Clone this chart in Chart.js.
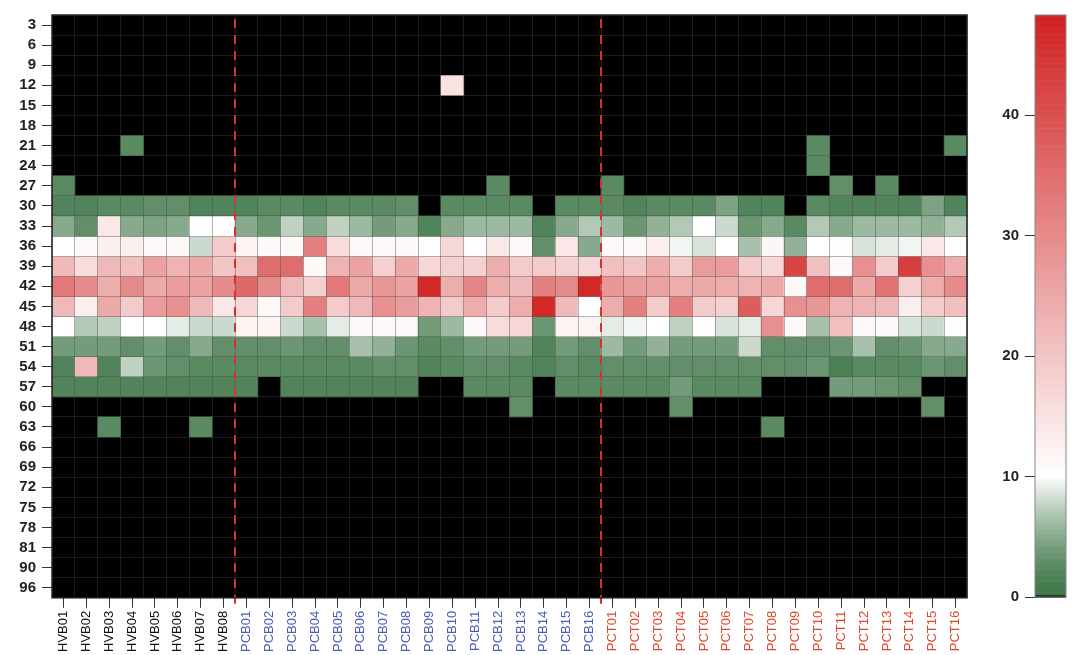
<!DOCTYPE html>
<html lang="en">
<head>
<meta charset="UTF-8">
<title>Heatmap</title>
<script src="https://cdn.jsdelivr.net/npm/chart.js"></script>
<style>
  body { margin: 0; background: #fff; }
  #wrap { position: relative; width: 1077px; height: 655px; }
  #heat { position: absolute; left: 0; top: 0; }
  #bar { position: absolute; left: 975px; top: 0; }
</style>
</head>
<body>
<div id="wrap">
  <canvas id="heat" width="1077" height="655"></canvas>
  <canvas id="bar" width="102" height="655"></canvas>
</div>
<script>
// row labels (top to bottom)
const depths = ['3','6','9','12','15','18','21','24','27','30','33','36','39','42','45','48','51','54','57','60','63','66','69','72','75','78','81','90','96'];

const hvbLabels = ['HVB01','HVB02','HVB03','HVB04','HVB05','HVB06','HVB07','HVB08'];
const pcbLabels = ['PCB01','PCB02','PCB03','PCB04','PCB05','PCB06','PCB07','PCB08','PCB09','PCB10','PCB11','PCB12','PCB13','PCB14','PCB15','PCB16'];
const pctLabels = ['PCT01','PCT02','PCT03','PCT04','PCT05','PCT06','PCT07','PCT08','PCT09','PCT10','PCT11','PCT12','PCT13','PCT14','PCT15','PCT16'];

// one array per sample, values for rows 3 .. 96
const hvbValues = [
  [0,0,0,0,0,0, 0,0,2.5, 2,5,10,22,33,22,10,4,2,2, 0,0, 0,0,0,0,0,0,0,0],
  [0,0,0,0,0,0, 0,0,0, 2,3,11,16,30,13,7,4,22,2, 0,0, 0,0,0,0,0,0,0,0],
  [0,0,0,0,0,0, 0,0,0, 2.5,14,13,22,24,25,7.5,4,2,2, 0,2.5, 0,0,0,0,0,0,0,0],
  [0,0,0,0,0,0, 2.5,0,0, 2.5,5,13,21,30,19,10,3,7.5,2, 0,0, 0,0,0,0,0,0,0,0],
  [0,0,0,0,0,0, 0,0,0, 3,4.5,11,26,25,27,10,4,3.5,2, 0,0, 0,0,0,0,0,0,0,0],
  [0,0,0,0,0,0, 0,0,0, 3,5,11,23,27,29,9,3,3,2, 0,0, 0,0,0,0,0,0,0,0],
  [0,0,0,0,0,0, 0,0,0, 2,10,8,25,26,22,8,5,2.5,2, 0,2.5, 0,0,0,0,0,0,0,0],
  [0,0,0,0,0,0, 0,0,0, 2,10,19,20,30,14,8,3,2.5,2, 0,0, 0,0,0,0,0,0,0,0]
];
const pcbValues = [
  [0,0,0,0,0,0, 0,0,0, 2,5,12,21,36,17,12,3,2.5,2, 0,0, 0,0,0,0,0,0,0,0],
  [0,0,0,0,0,0, 0,0,0, 2.5,3.5,11,35,30,11,12,3,2.5,0, 0,0, 0,0,0,0,0,0,0,0],
  [0,0,0,0,0,0, 0,0,0, 2.5,7.5,11,35,22,19,8,3.5,2.5,2, 0,0, 0,0,0,0,0,0,0,0],
  [0,0,0,0,0,0, 0,0,0, 2,5,32,11,18,32,6.5,3,2.5,2, 0,0, 0,0,0,0,0,0,0,0],
  [0,0,0,0,0,0, 0,0,0, 2.5,7.5,16,23,33,19,9,3,2.5,2, 0,0, 0,0,0,0,0,0,0,0],
  [0,0,0,0,0,0, 0,0,0, 2.5,6,11,26,25,22,11,6.5,2.5,2, 0,0, 0,0,0,0,0,0,0,0],
  [0,0,0,0,0,0, 0,0,0, 2.5,4,11,18,28,29,11,5.5,3,2, 0,0, 0,0,0,0,0,0,0,0],
  [0,0,0,0,0,0, 0,0,0, 3,5,11,25,26,27,11,3.5,3,2, 0,0, 0,0,0,0,0,0,0,0],
  [0,0,0,0,0,0, 0,0,0, 0,2,10.5,17,47,23,4,2.5,2,0, 0,0, 0,0,0,0,0,0,0,0],
  [0,0,0,15,0,0, 0,0,0, 2.5,5,17,18,24,19,6,3,2.5,0, 0,0, 0,0,0,0,0,0,0,0],
  [0,0,0,0,0,0, 0,0,0, 2.5,6,10.5,18,31,24,11,4,3,2.5, 0,0, 0,0,0,0,0,0,0,0],
  [0,0,0,0,0,0, 0,0,2.5, 2.5,6,14,24,24,19,16,4,3,2.5, 0,0, 0,0,0,0,0,0,0,0],
  [0,0,0,0,0,0, 0,0,0, 2.5,6,11,19,22,24,17,4,2.5,2.5, 3,0, 0,0,0,0,0,0,0,0],
  [0,0,0,0,0,0, 0,0,0, 0,2,3,19,32,47,3.5,2,2,0, 0,0, 0,0,0,0,0,0,0,0],
  [0,0,0,0,0,0, 0,0,0, 2.5,5,14,18,30,22,12,4,3,2.5, 0,0, 0,0,0,0,0,0,0,0],
  [0,0,0,0,0,0, 0,0,0, 2.5,7,5,17,47,10,12,3,2.5,2.5, 0,0, 0,0,0,0,0,0,0,0]
];
const pctValues = [
  [0,0,0,0,0,0, 0,0,2.5, 2.5,6,11,21,28,24,9,6,3,2.5, 0,0, 0,0,0,0,0,0,0,0],
  [0,0,0,0,0,0, 0,0,0, 2,3.5,11,20,27,32,9.5,4,3,2.5, 0,0, 0,0,0,0,0,0,0,0],
  [0,0,0,0,0,0, 0,0,0, 2.5,5.5,13,24,26,19,10,5.5,3,2.5, 0,0, 0,0,0,0,0,0,0,0],
  [0,0,0,0,0,0, 0,0,0, 2.5,7,9.5,19,24,32,7.5,4,3,4, 3,0, 0,0,0,0,0,0,0,0],
  [0,0,0,0,0,0, 0,0,0, 2.5,10,8.5,27,25,19,10.5,4,3,2.5, 0,0, 0,0,0,0,0,0,0,0],
  [0,0,0,0,0,0, 0,0,0, 4.5,8,10,27,24,18,8.5,4,3,2.5, 0,0, 0,0,0,0,0,0,0,0],
  [0,0,0,0,0,0, 0,0,0, 2,3.5,6.5,19,23,38,9,8,3,2.5, 0,0, 0,0,0,0,0,0,0,0],
  [0,0,0,0,0,0, 0,0,0, 2,5,11.5,17,25,17,29,3,3,0, 0,2.5, 0,0,0,0,0,0,0,0],
  [0,0,0,0,0,0, 0,0,0, 0,2.5,5.5,42,11,29,11,3,3,0, 0,0, 0,0,0,0,0,0,0,0],
  [0,0,0,0,0,0, 2.5,2.5,0, 2.5,7,10,21,35,28,6.5,3,3.5,0, 0,0, 0,0,0,0,0,0,0,0],
  [0,0,0,0,0,0, 0,0,3, 2,5,10.5,11,35,23,21,3.5,1.5,4, 0,0, 0,0,0,0,0,0,0,0],
  [0,0,0,0,0,0, 0,0,0, 2,6,8.5,29,25,23,11,6.5,2.5,4, 0,0, 0,0,0,0,0,0,0,0],
  [0,0,0,0,0,0, 0,0,2.5, 2,6,9,19,34,22,11,3,2.5,3.5, 0,0, 0,0,0,0,0,0,0,0],
  [0,0,0,0,0,0, 0,0,0, 2,6,9.5,43,18,13,8.5,3.5,2.5,3, 0,0, 0,0,0,0,0,0,0,0],
  [0,0,0,0,0,0, 0,0,0, 4.5,5.5,14,29,24,19,8,5,3.5,0, 3,0, 0,0,0,0,0,0,0,0],
  [0,0,0,0,0,0, 2.5,0,0, 2,7,10.5,24,30,21,10.5,5,3,0, 0,0, 0,0,0,0,0,0,0,0]
];

const colorTicks = [0, 10, 20, 30, 40];
const colorMax = 48.3;

const samples = hvbLabels.concat(pcbLabels, pctLabels);
const columns = hvbValues.concat(pcbValues, pctValues);
const FONT = "'Liberation Sans', Arial, sans-serif";

function mix(a, b, t) {
  return a.map((v, k) => Math.round(v + (b[k] - v) * t));
}
function heatColor(v) {
  if (v <= 0) return 'rgba(0,0,0,0)';
  let c;
  if (v < 10) c = mix([62, 118, 72], [255, 255, 255], Math.pow(v / 10, 1.4));
  else c = mix([255, 255, 255], [208, 32, 32], Math.min((v - 10) / (colorMax - 10), 1));
  return 'rgb(' + c.join(',') + ')';
}

const datasets = depths.map((d, j) => ({
  label: d,
  data: samples.map(() => [j, j + 1]),
  backgroundColor: columns.map(col => heatColor(col[j])),
  borderWidth: 0,
  grouped: false,
  barPercentage: 1,
  categoryPercentage: 1,
  xAxisID: 'x',
  yAxisID: 'y'
}));

const heatBg = {
  id: 'heatBg',
  beforeDatasetsDraw(chart) {
    const a = chart.chartArea, ctx = chart.ctx;
    ctx.save();
    ctx.fillStyle = '#000';
    ctx.fillRect(a.left, a.top, a.right - a.left, a.bottom - a.top);
    ctx.restore();
  },
  afterDraw(chart) {
    const a = chart.chartArea, ctx = chart.ctx, xs = chart.scales.x;
    ctx.save();
    ctx.strokeStyle = '#d9302a';
    ctx.lineWidth = 2;
    ctx.setLineDash([9, 7]);
    [7, 23].forEach(i => {
      const x = (xs.getPixelForTick(i) + xs.getPixelForTick(i + 1)) / 2;
      ctx.beginPath();
      ctx.moveTo(x, a.top + 4);
      ctx.lineTo(x, a.bottom + 6);
      ctx.stroke();
    });
    ctx.setLineDash([]);
    ctx.strokeStyle = '#222';
    ctx.lineWidth = 1.5;
    ctx.strokeRect(a.left, a.top, a.right - a.left, a.bottom - a.top);
    ctx.restore();
  }
};

new Chart(document.getElementById('heat'), {
  type: 'bar',
  data: { labels: samples, datasets: datasets },
  options: {
    responsive: false,
    animation: false,
    layout: { padding: { top: 14, right: 110, left: 0, bottom: 0 } },
    plugins: { legend: { display: false }, tooltip: { enabled: false } },
    scales: {
      x: {
        type: 'category',
        position: 'bottom',
        offset: true,
        grid: { offset: false, drawOnChartArea: false, drawTicks: true, tickLength: 10, color: '#333' },
        border: { display: false },
        ticks: {
          autoSkip: false, minRotation: 90, maxRotation: 90, padding: 3,
          font: { family: FONT, size: 13 },
          color: ctx => ctx.index < 8 ? '#111' : (ctx.index < 24 ? '#4a5cb4' : '#e2452c')
        }
      },
      xg: {
        type: 'category',
        position: 'top',
        offset: true,
        grid: { offset: true, drawOnChartArea: true, drawTicks: false, color: 'rgba(70,70,70,0.4)', z: 1 },
        border: { display: false },
        ticks: { display: false },
        afterFit: s => { s.height = 0; }
      },
      y: {
        type: 'linear',
        position: 'left',
        min: 0, max: depths.length,
        reverse: true,
        afterBuildTicks: s => { s.ticks = depths.map((d, j) => ({ value: j + 0.5 })); },
        afterFit: s => { s.width = 52; },
        grid: { drawOnChartArea: false, drawTicks: true, tickLength: 10, color: '#333' },
        border: { display: false },
        ticks: {
          autoSkip: false,
          padding: 6,
          font: { family: FONT, size: 15, weight: 'bold' },
          color: '#222',
          callback: v => depths[Math.floor(v)]
        }
      },
      yg: {
        type: 'linear',
        position: 'right',
        min: 0, max: depths.length,
        reverse: true,
        ticks: { display: false, stepSize: 1, autoSkip: false },
        grid: { drawOnChartArea: true, drawTicks: false, color: 'rgba(70,70,70,0.4)', z: 1 },
        border: { display: false },
        afterFit: s => { s.width = 0; }
      }
    }
  },
  plugins: [heatBg]
});

// colour key
const keyDraw = {
  id: 'keyDraw',
  beforeDatasetsDraw(chart) {
    const a = chart.chartArea, ctx = chart.ctx, ys = chart.scales.y;
    ctx.save();
    for (let v = 0; v < colorMax; v += 0.1) {
      const y0 = ys.getPixelForValue(v), y1 = ys.getPixelForValue(Math.min(v + 0.1, colorMax));
      ctx.fillStyle = heatColor(Math.max(v, 0.05));
      ctx.fillRect(a.left, y1, a.right - a.left, y0 - y1 + 0.6);
    }
    ctx.fillStyle = '#000';
    ctx.fillRect(a.left, ys.getPixelForValue(0) - 1.5, a.right - a.left, 2);
    ctx.strokeStyle = '#888';
    ctx.lineWidth = 1;
    ctx.strokeRect(a.left, a.top, a.right - a.left, a.bottom - a.top);
    ctx.restore();
  }
};

new Chart(document.getElementById('bar'), {
  type: 'bar',
  data: { labels: [''], datasets: [] },
  options: {
    responsive: false,
    animation: false,
    layout: { padding: { top: 12, bottom: 58, right: 11, left: 0 } },
    plugins: { legend: { display: false }, tooltip: { enabled: false } },
    scales: {
      x: { display: false },
      y: {
        type: 'linear',
        min: 0, max: colorMax,
        afterBuildTicks: s => { s.ticks = colorTicks.map(v => ({ value: v })); },
        afterFit: s => { s.width = 60; },
        grid: { drawOnChartArea: false, drawTicks: true, tickLength: 10, color: '#333' },
        border: { display: false },
        ticks: { autoSkip: false, padding: 6, font: { family: FONT, size: 15, weight: 'bold' }, color: '#222' }
      }
    }
  },
  plugins: [keyDraw]
});
</script>
</body>
</html>
